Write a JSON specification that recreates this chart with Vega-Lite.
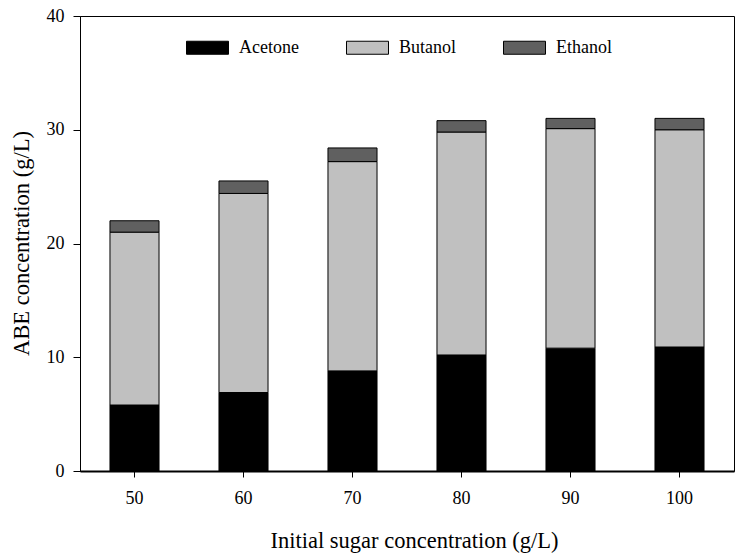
{
  "$schema": "https://vega.github.io/schema/vega-lite/v6.json",
  "background": "white",
  "autosize": {"type": "none"},
  "padding": {"left": 80, "top": 16, "right": 9, "bottom": 84},
  "width": 654,
  "height": 455,
  "config": {
    "font": "Liberation Serif",
    "view": {"stroke": "black", "strokeWidth": 1}
  },
  "data": {
    "values": [
      {"sugar": 50, "solvent": "Acetone", "conc": 5.8},
      {"sugar": 50, "solvent": "Butanol", "conc": 15.2},
      {"sugar": 50, "solvent": "Ethanol", "conc": 1.0},
      {"sugar": 60, "solvent": "Acetone", "conc": 6.9},
      {"sugar": 60, "solvent": "Butanol", "conc": 17.5},
      {"sugar": 60, "solvent": "Ethanol", "conc": 1.1},
      {"sugar": 70, "solvent": "Acetone", "conc": 8.8},
      {"sugar": 70, "solvent": "Butanol", "conc": 18.4},
      {"sugar": 70, "solvent": "Ethanol", "conc": 1.2},
      {"sugar": 80, "solvent": "Acetone", "conc": 10.2},
      {"sugar": 80, "solvent": "Butanol", "conc": 19.6},
      {"sugar": 80, "solvent": "Ethanol", "conc": 1.0},
      {"sugar": 90, "solvent": "Acetone", "conc": 10.8},
      {"sugar": 90, "solvent": "Butanol", "conc": 19.3},
      {"sugar": 90, "solvent": "Ethanol", "conc": 0.9},
      {"sugar": 100, "solvent": "Acetone", "conc": 10.9},
      {"sugar": 100, "solvent": "Butanol", "conc": 19.1},
      {"sugar": 100, "solvent": "Ethanol", "conc": 1.0}
    ]
  },
  "mark": {"type": "bar", "stroke": "black", "strokeWidth": 1},
  "encoding": {
    "x": {
      "field": "sugar",
      "type": "ordinal",
      "title": "Initial sugar concentration (g/L)",
      "scale": {"paddingInner": 0.55, "paddingOuter": 0.275},
      "axis": {
        "labelAngle": 0,
        "labelFontSize": 18,
        "labelColor": "black",
        "labelPadding": 12,
        "tickSize": 6,
        "tickColor": "black",
        "domainColor": "black",
        "domainWidth": 2,
        "titleFontSize": 22.5,
        "titleFontWeight": "normal",
        "titleColor": "black",
        "titleBaseline": "alphabetic",
        "titleY": 76,
        "titleX": 334
      }
    },
    "y": {
      "field": "conc",
      "type": "quantitative",
      "stack": "zero",
      "title": "ABE concentration (g/L)",
      "scale": {"domain": [0, 40], "nice": false},
      "axis": {
        "values": [0, 10, 20, 30, 40],
        "grid": false,
        "labelFontSize": 18,
        "labelColor": "black",
        "labelPadding": 9,
        "tickSize": 7,
        "tickColor": "black",
        "domainColor": "black",
        "titleFontSize": 22.5,
        "titleFontWeight": "normal",
        "titleColor": "black",
        "titleAngle": 270,
        "titleBaseline": "middle",
        "titleX": -59,
        "titleY": 227
      }
    },
    "order": {"field": "solvent", "sort": "ascending"},
    "color": {
      "field": "solvent",
      "type": "nominal",
      "title": null,
      "scale": {
        "domain": ["Acetone", "Butanol", "Ethanol"],
        "range": ["#000000", "#c0c0c0", "#606060"]
      },
      "legend": {
        "orient": "none",
        "direction": "horizontal",
        "legendX": 106,
        "legendY": 10,
        "padding": 0,
        "symbolType": "M-1,-0.31H1V0.31H-1Z",
        "symbolSize": 1764,
        "symbolStrokeColor": "black",
        "symbolStrokeWidth": 1,
        "labelFontSize": 18,
        "labelColor": "black",
        "labelOffset": 10,
        "columnPadding": 45
      }
    }
  }
}
